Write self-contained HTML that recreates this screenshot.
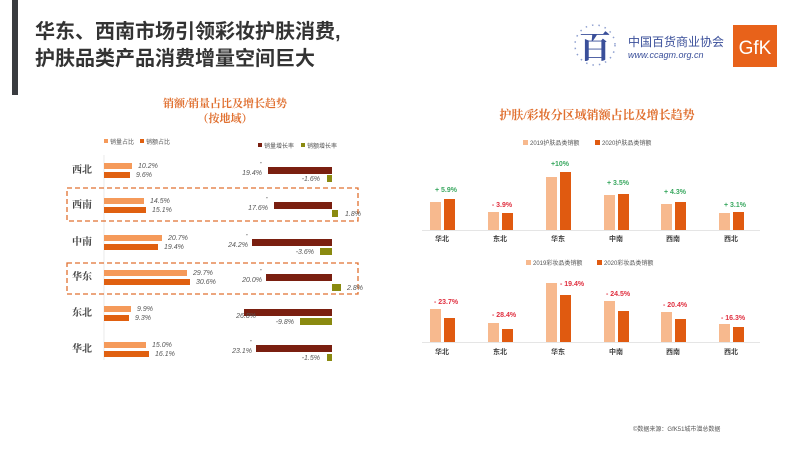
<!DOCTYPE html>
<html><head><meta charset="utf-8"><style>
html,body{margin:0;padding:0;background:#fff;}
svg{display:block;}
text{font-family:"Liberation Sans","Noto Sans CJK SC",sans-serif;}
.s{font-family:"Liberation Serif","Noto Serif CJK SC",serif;}
</style></head><body>
<svg width="800" height="450" viewBox="0 0 800 450" xmlns="http://www.w3.org/2000/svg">
<rect width="800" height="450" fill="#fff"/>
<rect x="12" y="0" width="6" height="95" fill="#3a3c40"/>
<text x="35" y="38" font-size="20" font-weight="bold" fill="#333">华东、西南市场引领彩妆护肤消费,</text>
<text x="35" y="65" font-size="20" font-weight="bold" fill="#333">护肤品类产品消费增量空间巨大</text>
<text x="595" y="58" font-size="32" font-weight="bold" fill="#3a4f9a" text-anchor="middle" class="s">百</text>
<circle cx="595" cy="45" r="20" fill="none" stroke="#8fa0d0" stroke-width="1.5" stroke-dasharray="1.5 5"/>
<text x="628" y="46" font-size="12" fill="#3a4f9a">中国百货商业协会</text>
<text x="628" y="58" font-size="9" font-style="italic" fill="#3a4f9a">www.ccagm.org.cn</text>
<rect x="733" y="25" width="44" height="42" fill="#e8621a"/>
<text x="755" y="54" font-size="19" fill="#fff" text-anchor="middle">GfK</text>
<text x="225" y="107" font-size="11" font-weight="bold" fill="#e07030" text-anchor="middle" class="s">销额/销量占比及增长趋势</text>
<text x="225" y="122" font-size="11" font-weight="bold" fill="#e07030" text-anchor="middle" class="s">（按地域）</text>
<rect x="104" y="139" width="4" height="4" fill="#f59a5a"/><text x="110" y="144" font-size="6" fill="#555">销量占比</text>
<rect x="140" y="139" width="4" height="4" fill="#e06010"/><text x="146" y="144" font-size="6" fill="#555">销额占比</text>
<rect x="258" y="143" width="4" height="4" fill="#7a1f10"/><text x="264" y="148" font-size="6" fill="#555">销量增长率</text>
<rect x="301" y="143" width="4" height="4" fill="#8a8a10"/><text x="307" y="148" font-size="6" fill="#555">销额增长率</text>
<line x1="104" y1="155" x2="104" y2="360" stroke="#ddd" stroke-width="0.6"/>
<rect x="67" y="188" width="291" height="33" fill="none" stroke="#e07030" stroke-width="1.3" stroke-dasharray="5 3"/>
<rect x="67" y="263" width="291" height="31" fill="none" stroke="#e07030" stroke-width="1.3" stroke-dasharray="5 3"/>
<g font-size="7" fill="#555" font-style="italic">
<g transform="translate(0,163)">
<text x="82" y="10" font-size="10" font-weight="bold" fill="#444" text-anchor="middle" class="s" font-style="normal">西北</text>
<rect x="104" y="0" width="28" height="6" fill="#f59a5a"/><rect x="104" y="9" width="26" height="6" fill="#e06010"/>
<text x="138" y="5">10.2%</text><text x="136" y="14">9.6%</text>
<rect x="268" y="4" width="64" height="7" fill="#7a1f10"/><text x="262" y="2" text-anchor="end">-</text><text x="262" y="12" text-anchor="end">19.4%</text>
<rect x="327" y="12" width="5" height="7" fill="#8a8a10"/><text x="320" y="18" text-anchor="end">-1.6%</text>
</g>
<g transform="translate(0,198)">
<text x="82" y="10" font-size="10" font-weight="bold" fill="#444" text-anchor="middle" class="s" font-style="normal">西南</text>
<rect x="104" y="0" width="40" height="6" fill="#f59a5a"/><rect x="104" y="9" width="42" height="6" fill="#e06010"/>
<text x="150" y="5">14.5%</text><text x="152" y="14">15.1%</text>
<rect x="274" y="4" width="58" height="7" fill="#7a1f10"/><text x="268" y="2" text-anchor="end">-</text><text x="268" y="12" text-anchor="end">17.6%</text>
<rect x="332" y="12" width="6" height="7" fill="#8a8a10"/><text x="345" y="18">1.8%</text>
</g>
<g transform="translate(0,235)">
<text x="82" y="10" font-size="10" font-weight="bold" fill="#444" text-anchor="middle" class="s" font-style="normal">中南</text>
<rect x="104" y="0" width="58" height="6" fill="#f59a5a"/><rect x="104" y="9" width="54" height="6" fill="#e06010"/>
<text x="168" y="5">20.7%</text><text x="164" y="14">19.4%</text>
<rect x="252" y="4" width="80" height="7" fill="#7a1f10"/><text x="248" y="2" text-anchor="end">-</text><text x="248" y="12" text-anchor="end">24.2%</text>
<rect x="320" y="13" width="12" height="7" fill="#8a8a10"/><text x="314" y="19" text-anchor="end">-3.6%</text>
</g>
<g transform="translate(0,270)">
<text x="82" y="10" font-size="10" font-weight="bold" fill="#444" text-anchor="middle" class="s" font-style="normal">华东</text>
<rect x="104" y="0" width="83" height="6" fill="#f59a5a"/><rect x="104" y="9" width="86" height="6" fill="#e06010"/>
<text x="193" y="5">29.7%</text><text x="196" y="14">30.6%</text>
<rect x="266" y="4" width="66" height="7" fill="#7a1f10"/><text x="262" y="2" text-anchor="end">-</text><text x="262" y="12" text-anchor="end">20.0%</text>
<rect x="332" y="14" width="9" height="7" fill="#8a8a10"/><text x="347" y="20">2.8%</text>
</g>
<g transform="translate(0,306)">
<text x="82" y="10" font-size="10" font-weight="bold" fill="#444" text-anchor="middle" class="s" font-style="normal">东北</text>
<rect x="104" y="0" width="27" height="6" fill="#f59a5a"/><rect x="104" y="9" width="25" height="6" fill="#e06010"/>
<text x="137" y="5">9.9%</text><text x="135" y="14">9.3%</text>
<rect x="244" y="3" width="88" height="7" fill="#7a1f10"/><text x="256" y="12" text-anchor="end">26.8%</text>
<rect x="300" y="12" width="32" height="7" fill="#8a8a10"/><text x="294" y="18" text-anchor="end">-9.8%</text>
</g>
<g transform="translate(0,342)">
<text x="82" y="10" font-size="10" font-weight="bold" fill="#444" text-anchor="middle" class="s" font-style="normal">华北</text>
<rect x="104" y="0" width="42" height="6" fill="#f59a5a"/><rect x="104" y="9" width="45" height="6" fill="#e06010"/>
<text x="152" y="5">15.0%</text><text x="155" y="14">16.1%</text>
<rect x="256" y="3" width="76" height="7" fill="#7a1f10"/><text x="252" y="1" text-anchor="end">-</text><text x="252" y="11" text-anchor="end">23.1%</text>
<rect x="327" y="12" width="5" height="7" fill="#8a8a10"/><text x="320" y="18" text-anchor="end">-1.5%</text>
</g>
</g>
<text x="597" y="119" font-size="12" font-weight="bold" fill="#e07030" text-anchor="middle" class="s">护肤/彩妆分区域销额占比及增长趋势</text>
<rect x="523" y="140" width="5" height="5" fill="#f7b98e"/><text x="530" y="145" font-size="6" fill="#555">2019护肤品类销额</text>
<rect x="595" y="140" width="5" height="5" fill="#e05a10"/><text x="602" y="145" font-size="6" fill="#555">2020护肤品类销额</text>
<rect x="526" y="260" width="5" height="5" fill="#f7b98e"/><text x="533" y="265" font-size="6" fill="#555">2019彩妆品类销额</text>
<rect x="597" y="260" width="5" height="5" fill="#e05a10"/><text x="604" y="265" font-size="6" fill="#555">2020彩妆品类销额</text>
<line x1="422" y1="230.5" x2="760" y2="230.5" stroke="#ddd" stroke-width="0.8"/>
<line x1="422" y1="342.5" x2="760" y2="342.5" stroke="#ddd" stroke-width="0.8"/>
<g fill="#f7b98e">
<rect x="430" y="202" width="11" height="28"/><rect x="488" y="212" width="11" height="18"/><rect x="546" y="177" width="11" height="53"/><rect x="604" y="195" width="11" height="35"/><rect x="661" y="204" width="11" height="26"/><rect x="719" y="213" width="11" height="17"/>
<rect x="430" y="309" width="11" height="33"/><rect x="488" y="323" width="11" height="19"/><rect x="546" y="283" width="11" height="59"/><rect x="604" y="301" width="11" height="41"/><rect x="661" y="312" width="11" height="30"/><rect x="719" y="324" width="11" height="18"/>
</g>
<g fill="#e05a10">
<rect x="444" y="199" width="11" height="31"/><rect x="502" y="213" width="11" height="17"/><rect x="560" y="172" width="11" height="58"/><rect x="618" y="194" width="11" height="36"/><rect x="675" y="202" width="11" height="28"/><rect x="733" y="212" width="11" height="18"/>
<rect x="444" y="318" width="11" height="24"/><rect x="502" y="329" width="11" height="13"/><rect x="560" y="295" width="11" height="47"/><rect x="618" y="311" width="11" height="31"/><rect x="675" y="319" width="11" height="23"/><rect x="733" y="327" width="11" height="15"/>
</g>
<g font-size="7" font-weight="bold" fill="#3aa860" text-anchor="middle">
<text x="446" y="192">+ 5.9%</text><text x="560" y="166">+10%</text><text x="618" y="185">+ 3.5%</text><text x="675" y="194">+ 4.3%</text><text x="735" y="207">+ 3.1%</text>
</g>
<text x="502" y="207" font-size="7" font-weight="bold" fill="#e03040" text-anchor="middle">- 3.9%</text>
<g font-size="7" font-weight="bold" fill="#e03040" text-anchor="middle">
<text x="446" y="304">- 23.7%</text><text x="504" y="317">- 28.4%</text><text x="572" y="286">- 19.4%</text><text x="618" y="296">- 24.5%</text><text x="675" y="307">- 20.4%</text><text x="733" y="320">- 16.3%</text>
</g>
<g font-size="7" font-weight="bold" fill="#444" text-anchor="middle" class="s">
<text x="442" y="241">华北</text><text x="500" y="241">东北</text><text x="558" y="241">华东</text><text x="616" y="241">中南</text><text x="673" y="241">西南</text><text x="731" y="241">西北</text>
<text x="442" y="354">华北</text><text x="500" y="354">东北</text><text x="558" y="354">华东</text><text x="616" y="354">中南</text><text x="673" y="354">西南</text><text x="731" y="354">西北</text>
</g>
<text x="633" y="431" font-size="6" fill="#555">©数据来源：GfK51城市潜总数据</text>
</svg>
</body></html>
